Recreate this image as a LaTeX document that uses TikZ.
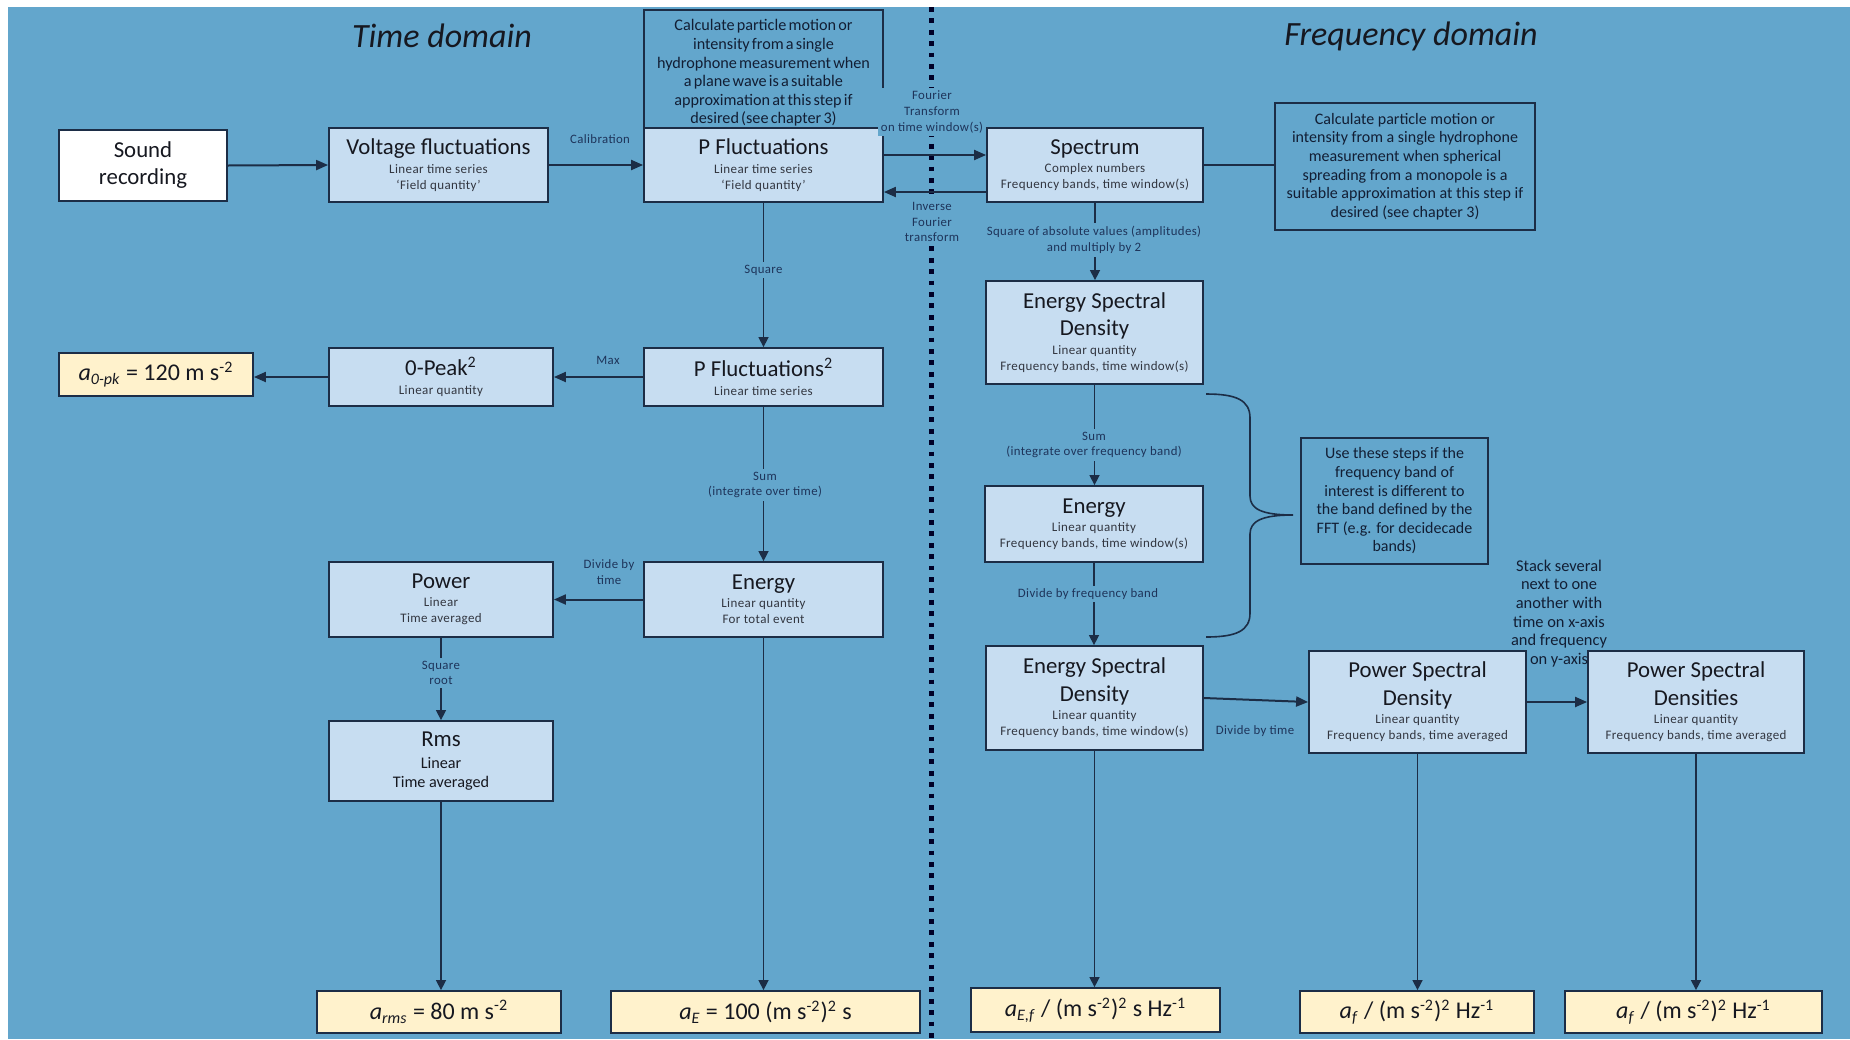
\documentclass[tikz,border=0pt]{standalone}
\usepackage{fontspec}
\setmainfont{Carlito}
\newfontfamily\subfont{Carlito}[LetterSpace=3]
\newfontfamily\tightfont{Carlito}[WordSpace=0.6]
\usetikzlibrary{arrows.meta}

\definecolor{bgblue}{RGB}{99,166,204}
\definecolor{boxfill}{RGB}{199,221,241}
\definecolor{resfill}{RGB}{255,242,204}
\definecolor{edge}{RGB}{28,45,70}
\definecolor{ink}{RGB}{22,24,32}
\definecolor{subink}{RGB}{50,54,64}
\definecolor{lblink}{RGB}{30,52,90}
\definecolor{noteink}{RGB}{18,30,52}

\newcommand{\boxtitle}{\fontsize{11.4}{13.5}\selectfont}
\newcommand{\boxsub}{\subfont\fontsize{6.5}{8}\selectfont\color{subink}}
\newcommand{\boxmid}{\fontsize{8.1}{9.5}\selectfont}

\tikzset{
  box/.style={draw=edge, fill=boxfill, line width=0.9pt, inner sep=1pt, align=center, text=ink,
    font=\fontsize{6.5}{8}\selectfont},
  resbox/.style={draw=edge, fill=resfill, line width=0.9pt, inner sep=1pt, align=center, text=ink,
    font=\fontsize{12}{14}\selectfont},
  notebox/.style={draw=edge, line width=1.1pt, inner sep=2pt, align=center, text=noteink,
    font=\fontsize{8}{9.3}\selectfont},
  notetext/.style={text=noteink, align=center, inner sep=0pt},
  lbl/.style={fill=bgblue, text=lblink, align=center, inner sep=1.5pt,
    font=\subfont\fontsize{6.4}{7.8}\selectfont},
  stacklbl/.style={text=noteink, align=center, inner sep=0pt, font=\fontsize{8.2}{9.3}\selectfont},
  arrh/.style={draw=edge, line width=1pt, -{Triangle[length=6pt,width=5pt]}},
  arrv/.style={draw=edge, line width=0.7pt, -{Triangle[length=5pt,width=5pt]}},
  link/.style={draw=edge, line width=1pt},
  divider/.style={draw=black!85!blue, line width=2.5pt, dash pattern=on 2.4pt off 3.3pt},
  heading/.style={text=ink, font=\fontsize{17}{20}\selectfont\itshape},
}

\begin{document}
\begin{tikzpicture}[x=0.5pt, y=-0.5pt]
\useasboundingbox (0,0) rectangle (1850,1039);
\fill[white] (0,0) rectangle (1850,1039);
\fill[bgblue] (8,7) rectangle (1850,1039);

% divider between the two domains
\draw[divider] (931,7) -- (931,1039);

% headings
\node[heading] (htime) at (442,36) {Time domain};
\node[heading] (hfreq) at (1411,36) {Frequency domain};

% ---------- time domain ----------
\node[box, fill=white, minimum width=84pt, minimum height=35.5pt, font=\boxtitle] (sound) at (143,165.5)
  {Sound\\recording};
\node[box, minimum width=109.5pt, minimum height=37pt] (volt) at (438.5,165)
  {\boxtitle Voltage fluctuations\\[1.2pt]\boxsub Linear time series\\\boxsub ‘Field quantity’};
\node[box, minimum width=119.5pt, minimum height=37pt] (pf) at (763.5,165)
  {\boxtitle P Fluctuations\\[1.2pt]\boxsub Linear time series\\\boxsub ‘Field quantity’};
\node[notebox, minimum width=119.5pt, minimum height=59pt] (noteplane) at (763.5,69) {};
\node[notetext, font=\tightfont\fontsize{8.1}{9.3}\selectfont] (noteplanetext) at (763.5,73)
  {Calculate particle motion or\\intensity from a single\\hydrophone measurement when\\a plane wave is a suitable\\approximation at this step if\\desired (see chapter 3)};
\node[box, minimum width=112pt, minimum height=29pt] (peak) at (441,377)
  {\boxtitle 0-Peak\textsuperscript{2}\\[1.2pt]\boxsub Linear quantity};
\node[box, minimum width=119.5pt, minimum height=29pt] (pf2) at (763.5,377)
  {\boxtitle P Fluctuations\textsuperscript{2}\\[1.2pt]\boxsub Linear time series};
\node[resbox, minimum width=97pt, minimum height=21.5pt] (apk) at (156,374.5)
  {\textit{a}\textsubscript{\textit{0-pk}} = 120 m s\textsuperscript{-2}};
\node[box, minimum width=112pt, minimum height=37.5pt] (power) at (441,599.5)
  {\boxtitle Power\\[1.2pt]\boxsub Linear\\\boxsub Time averaged};
\node[box, minimum width=119.5pt, minimum height=37.5pt] (ent) at (763.5,599.5)
  {\boxtitle Energy\\[1.2pt]\boxsub Linear quantity\\\boxsub For total event};
\node[box, minimum width=112pt, minimum height=40pt, font=\boxmid] (rms) at (441,761)
  {\boxtitle Rms\\[1.5pt]\boxmid Linear\\\boxmid Time averaged};
\node[resbox, minimum width=122pt, minimum height=21pt] (arms) at (439,1012)
  {\textit{a}\textsubscript{\textit{rms}} = 80 m s\textsuperscript{-2}};
\node[resbox, minimum width=154.5pt, minimum height=21pt] (ae) at (765.5,1012)
  {\textit{a}\textsubscript{\textit{E}} = 100 (m s\textsuperscript{-2})\textsuperscript{2} s};

% ---------- frequency domain ----------
\node[box, minimum width=108pt, minimum height=37pt] (spec) at (1095,165)
  {\boxtitle Spectrum\\[1.2pt]\boxsub Complex numbers\\\boxsub Frequency bands, time window(s)};
\node[notebox, minimum width=130pt, minimum height=63.5pt] (notesph) at (1405,166.5)
  {Calculate particle motion or\\intensity from a single hydrophone\\measurement when spherical\\spreading from a monopole is a\\suitable approximation at this step if\\desired (see chapter 3)};
\node[box, minimum width=108.5pt, minimum height=51.5pt] (esd1) at (1094.5,332.5)
  {\boxtitle Energy Spectral\\[3pt]\boxtitle Density\\[1.2pt]\boxsub Linear quantity\\\boxsub Frequency bands, time window(s)};
\node[box, minimum width=109pt, minimum height=38pt] (enf) at (1094,524)
  {\boxtitle Energy\\[1.2pt]\boxsub Linear quantity\\\boxsub Frequency bands, time window(s)};
\node[box, minimum width=108.5pt, minimum height=52pt] (esd2) at (1094.5,698)
  {\boxtitle Energy Spectral\\[3pt]\boxtitle Density\\[1.2pt]\boxsub Linear quantity\\\boxsub Frequency bands, time window(s)};
\node[box, minimum width=108.5pt, minimum height=51pt] (psd) at (1417.5,702)
  {\boxtitle Power Spectral\\[3pt]\boxtitle Density\\[1.2pt]\boxsub Linear quantity\\\boxsub Frequency bands, time averaged};
\node[box, minimum width=108pt, minimum height=51pt] (psds) at (1696,702)
  {\boxtitle Power Spectral\\[3pt]\boxtitle Densities\\[1.2pt]\boxsub Linear quantity\\\boxsub Frequency bands, time averaged};
\node[notebox, minimum width=93.5pt, minimum height=63pt] (noteuse) at (1394.5,501)
  {Use these steps if the\\frequency band of\\interest is different to\\the band defined by the\\FFT (e.g. for decidecade\\bands)};
\node[resbox, minimum width=124.5pt, minimum height=22pt] (aef) at (1095.5,1010)
  {\textit{a}\textsubscript{\textit{E,f}} / (m s\textsuperscript{-2})\textsuperscript{2} s Hz\textsuperscript{-1}};
\node[resbox, minimum width=117pt, minimum height=21pt] (af1) at (1417,1012)
  {\textit{a}\textsubscript{\textit{f}} / (m s\textsuperscript{-2})\textsuperscript{2} Hz\textsuperscript{-1}};
\node[resbox, minimum width=128.5pt, minimum height=21pt] (af2) at (1693.5,1012)
  {\textit{a}\textsubscript{\textit{f}} / (m s\textsuperscript{-2})\textsuperscript{2} Hz\textsuperscript{-1}};

% brace grouping the optional frequency-band steps
\draw[edge, line width=0.8pt] (1206,394) .. controls (1236,394) and (1250,400) .. (1250,418)
  -- (1250,496) .. controls (1250,509) and (1262,515) .. (1293,515)
  .. controls (1262,515) and (1250,521) .. (1250,534)
  -- (1250,613) .. controls (1250,631) and (1236,637) .. (1206,637);

% ---------- connectors ----------
\draw[arrh] (sound.east) -- (volt.west);
\draw[arrh] (volt.east) -- (pf.west);
\draw[arrh] ([yshift=5pt]pf.east) -- ([yshift=5pt]pf.east -| spec.west);
\draw[arrh] ([yshift=-13.5pt]spec.west) -- ([yshift=-13.5pt]spec.west -| pf.east);
\draw[link] (spec.east) -- (spec.east -| notesph.west);
\draw[arrv] (pf.south) -- (pf2.north);
\draw[arrh] (pf2.west) -- (peak.east);
\draw[arrh] (peak.west) -- (peak.west -| apk.east);
\draw[arrv] (pf2.south) -- (ent.north);
\draw[arrh] (ent.west) -- (power.east);
\draw[arrv] (power.south) -- (rms.north);
\draw[arrv] (rms.south) -- (rms.south |- arms.north);
\draw[arrv] (ent.south) -- (ent.south |- ae.north);
\draw[arrv] (spec.south) -- (spec.south |- esd1.north);
\draw[arrv] (esd1.south) -- (esd1.south |- enf.north);
\draw[arrv] (enf.south) -- (enf.south |- esd2.north);
\draw[arrh] (esd2.east) -- (psd.west);
\draw[arrh] (psd.east) -- (psds.west);
\draw[arrv] (esd2.south) -- (esd2.south |- aef.north);
\draw[arrv] (psd.south) -- (psd.south |- af1.north);
\draw[arrv] (psds.south) -- (psds.south |- af2.north);

% ---------- connector labels ----------
\node[lbl] (lcal) at (600,139) {Calibration};
\node[lbl] (lft) at (932,112) {Fourier\\Transform\\on time window(s)};
\node[lbl] (lift) at (932,222) {Inverse\\Fourier\\transform};
\node[lbl] (lsq) at (763.5,270) {Square};
\node[lbl] (lmax) at (608,360) {Max};
\node[lbl] (lsum) at (765,485) {Sum\\(integrate over time)};
\node[lbl] (ldiv) at (609,572) {Divide by\\time};
\node[lbl] (lroot) at (441,673) {Square\\root};
\node[lbl] (lsqa) at (1094,240) {Square of absolute values (amplitudes)\\and multiply by 2};
\node[lbl] (lsumf) at (1094,445) {Sum\\(integrate over frequency band)};
\node[lbl] (ldivf) at (1088,594) {Divide by frequency band};
\node[lbl] (ldivt) at (1255,731) {Divide by time};
\node[stacklbl] (lstack) at (1559,613.5) {Stack several\\next to one\\another with\\time on x-axis\\and frequency\\on y-axis};
\end{tikzpicture}
\end{document}
